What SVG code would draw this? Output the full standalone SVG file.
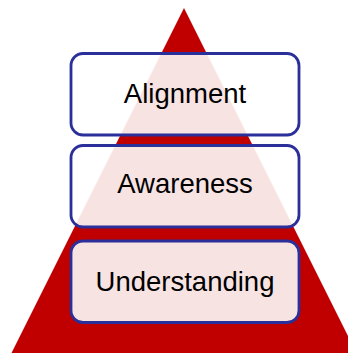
<svg xmlns="http://www.w3.org/2000/svg" width="348" height="353" viewBox="0 0 348 353">
  <style>
    .box { fill: #ffffff; fill-opacity: 0.89; stroke: #2b2f9a; stroke-width: 2.8; }
    .label { font-family: "Liberation Sans", Arial, sans-serif; font-size: 27.5px; fill: #000000; text-anchor: middle; }
  </style>
  <rect width="348" height="353" fill="#ffffff"/>
  <!-- pyramid backdrop -->
  <polygon id="pyramid" points="184,8 11,354 357,354" fill="#c00000"/>
  <g id="alignment">
    <rect class="box" x="71" y="53.5" width="228" height="81.5" rx="12"/>
    <text class="label" x="185" y="103.3">Alignment</text>
  </g>
  <g id="awareness">
    <rect class="box" x="71" y="145.5" width="228" height="81.5" rx="12"/>
    <text class="label" x="185" y="192.5">Awareness</text>
  </g>
  <g id="understanding">
    <rect class="box" x="71" y="241" width="228" height="81.5" rx="12"/>
    <text class="label" x="185" y="290.7">Understanding</text>
  </g>
  <g id="connectors"/>
</svg>
